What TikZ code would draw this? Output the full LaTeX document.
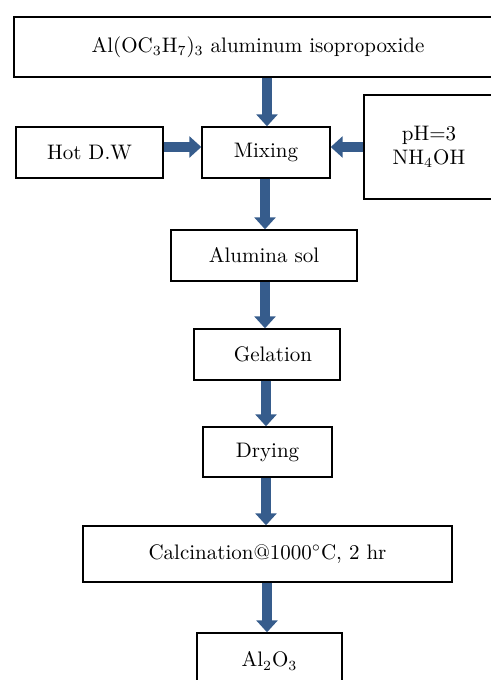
\documentclass[tikz,border=0pt]{standalone}
\usetikzlibrary{arrows.meta}
\definecolor{flowblue}{RGB}{54,92,140}

\begin{document}
\begin{tikzpicture}[x=0.5pt,y=-0.5pt,
  box/.style={draw, line width=0.7pt, inner sep=0pt, align=center, font=\fontsize{10.5}{12}\selectfont},
  flow/.style={draw=flowblue, line width=5pt, -{Triangle[width=10.5pt,length=6pt]}, flowblue}]
\useasboundingbox (0,0) rectangle (491,680);

%les boites
\node[box, minimum width=244pt, minimum height=30pt] (prec) at (258,47) {Al(OC$_3$H$_7$)$_3$ aluminum isopropoxide};
\node[box, minimum width=73.5pt, minimum height=25.5pt] (hot) at (89.5,152.5) {Hot D.W};
\node[box, minimum width=64pt, minimum height=25.5pt] (mix) at (266,152.5) {Mixing};
\node[box, minimum width=65pt, minimum height=52pt] (ph) at (429,147) {pH=3\\NH$_4$OH};
\node[box, minimum width=93pt, minimum height=25.5pt] (sol) at (264,255.5) {Alumina sol};
\node[box, minimum width=73pt, minimum height=25.5pt] (gel) at (267,354.5) {\hspace{6pt}Gelation};
\node[box, minimum width=64.5pt, minimum height=25pt] (dry) at (267.5,452) {Drying};
\node[box, minimum width=184.5pt, minimum height=28pt] (calc) at (267.5,554) {Calcination@1000$^\circ$C, 2 hr};
\node[box, minimum width=72.5pt, minimum height=28pt] (alo) at (269.5,661) {Al$_2$O$_3$};

%les fleches
\draw[flow] (prec.south -| 267,0) -- (mix.north -| 267,0);
\draw[flow] (hot.east |- 0,147) -- (mix.west |- 0,147);
\draw[flow] (ph.west) -- (mix.east |- ph.west);
\draw[flow] (mix.south -| 265,0) -- (sol.north -| 265,0);
\draw[flow] (sol.south -| 265,0) -- (gel.north -| 265,0);
\draw[flow] (gel.south -| 266,0) -- (dry.north -| 266,0);
\draw[flow] (dry.south -| 266,0) -- (calc.north -| 266,0);
\draw[flow] (calc.south -| 267,0) -- (alo.north -| 267,0);
\end{tikzpicture}
\end{document}
